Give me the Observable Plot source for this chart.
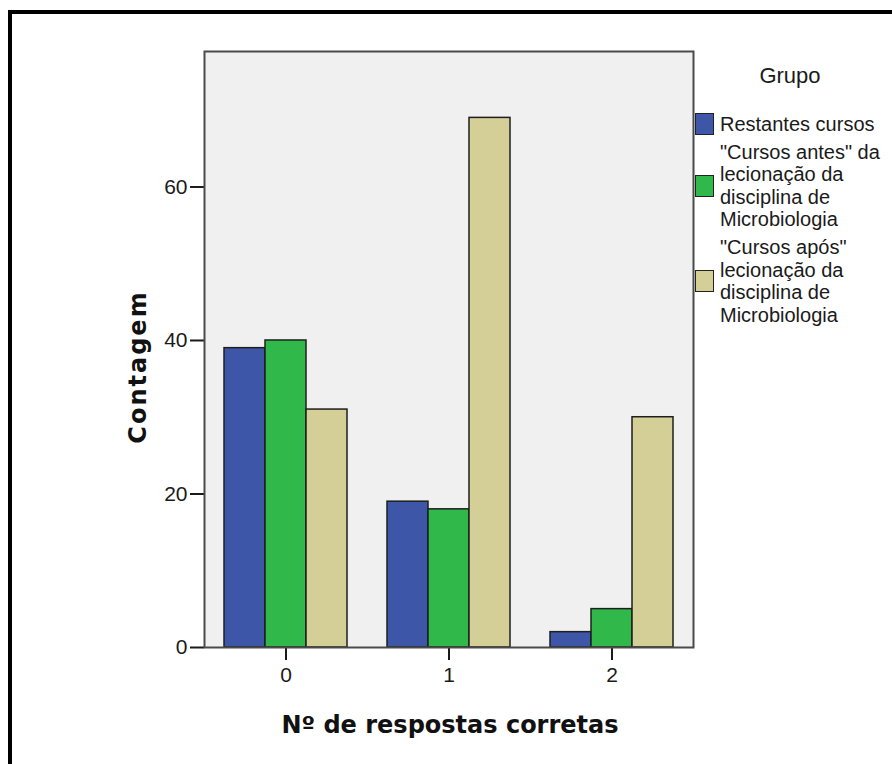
<!DOCTYPE html>
<html>
<head>
<meta charset="utf-8">
<script src="https://cdn.jsdelivr.net/npm/d3@7"></script>
<script src="https://cdn.jsdelivr.net/npm/@observablehq/plot@0.6"></script>
<style>
  body { margin: 0; background: #fff; }
  #wrap { position: relative; width: 892px; height: 764px; overflow: hidden; background: #fff; font-family: "Liberation Sans", Arial, sans-serif; color: #1a1a1a; }
  #chart { position: absolute; left: 0; top: 0; }
  #border { position: absolute; left: 8px; top: 10px; width: 1000px; height: 1000px; border-left: 4px solid #000; border-top: 4px solid #000; pointer-events: none; }
  .ytitle { position: absolute; left: 138px; top: 367px; transform: translate(-50%, -50%) rotate(-90deg); font: bold 24px "DejaVu Sans", sans-serif; letter-spacing: 2px; white-space: nowrap; color: #111; }
  .xtitle { position: absolute; left: 0; width: 900px; top: 713px; text-align: center; font: bold 24px/24px "DejaVu Sans", sans-serif; white-space: nowrap; color: #111; }
  #legend { position: absolute; left: 695px; top: 64px; }
  #legend .title { width: 190px; text-align: center; font-size: 22px; line-height: 24px; margin-bottom: 25px; }
  #legend .item { display: flex; align-items: center; margin-bottom: 5px; }
  #legend .sw { width: 17px; height: 20px; border: 1px solid #222; flex: none; }
  #legend .lab { margin-left: 6px; width: 180px; font-size: 20px; line-height: 22.6px; }
  g[aria-label$="axis tick"] { stroke: #444; stroke-width: 2px; }
</style>
</head>
<body>
<div id="wrap">
  <div id="chart"></div>
  <div class="ytitle">Contagem</div>
  <div class="xtitle">Nº de respostas corretas</div>
  <div id="legend"></div>
  <div id="border"></div>
</div>
<script>
// ---- data ----
const groups = ["0", "1", "2"];                       // Nº de respostas corretas
const series = [
  "Restantes cursos",
  "\"Cursos antes\" da lecionação da disciplina de Microbiologia",
  "\"Cursos após\" lecionação da disciplina de Microbiologia"
];
const restantes = [39, 19, 2];
const cursosAntes = [40, 18, 5];
const cursosApos = [31, 69, 30];
const colors = ["#3e56a8", "#30b84b", "#d4ce97"];
const yTicks = [0, 20, 40, 60];
const legendTitle = "Grupo";

const seriesValues = [restantes, cursosAntes, cursosApos];
const data = [];
groups.forEach((g, gi) => {
  series.forEach((s, si) => data.push({group: g, series: s, count: seriesValues[si][gi]}));
});

const chart = Plot.plot({
  width: 892,
  height: 764,
  marginLeft: 203,
  marginRight: 199,
  marginTop: 51,
  marginBottom: 117,
  style: { fontSize: "21px", fontFamily: "Liberation Sans, Arial, sans-serif", color: "#1a1a1a", background: "transparent" },
  fx: { domain: groups, paddingInner: 0, paddingOuter: 0, tickSize: 13, tickPadding: 7, label: null, axis: "bottom" },
  x: { domain: series, paddingInner: 0, paddingOuter: 0.4675, axis: null },
  y: { domain: [0, 77.65], ticks: yTicks, tickSize: 14, tickPadding: 3, label: null },
  color: { domain: series, range: colors },
  marks: [
    Plot.frame({ fill: "#f0f0f0", facet: "super" }),
    Plot.barY(data, { fx: "group", x: "series", y: "count", fill: "series", stroke: "#1e1e1e", strokeWidth: 1.5 }),
    Plot.frame({ stroke: "#4a4a4a", strokeWidth: 2, facet: "super" })
  ]
});
document.getElementById("chart").appendChild(chart);

// ---- legend ----
const legend = document.getElementById("legend");
const t = document.createElement("div");
t.className = "title";
t.textContent = legendTitle;
legend.appendChild(t);
series.forEach((s, i) => {
  const item = document.createElement("div");
  item.className = "item";
  const sw = document.createElement("div");
  sw.className = "sw";
  sw.style.background = colors[i];
  const lab = document.createElement("div");
  lab.className = "lab";
  lab.textContent = s;
  item.appendChild(sw);
  item.appendChild(lab);
  legend.appendChild(item);
});
</script>
</body>
</html>
